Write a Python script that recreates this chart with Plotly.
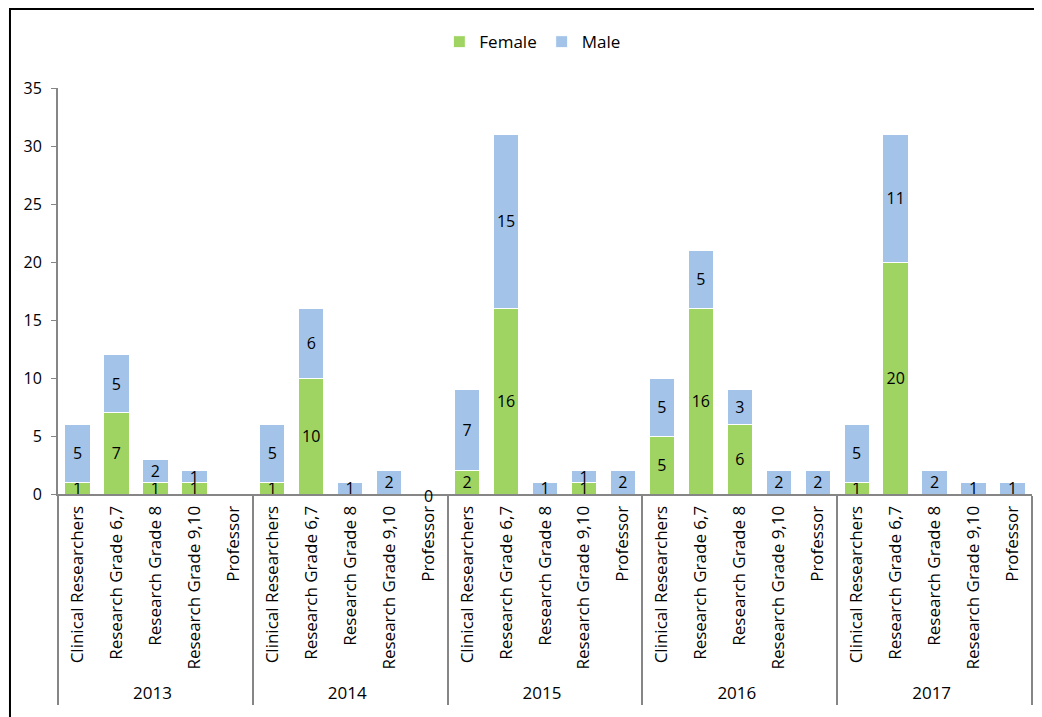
import plotly.graph_objects as go

years = ["2013", "2014", "2015", "2016", "2017"]
roles = [
    "Clinical Researchers",
    "Research Grade 6,7",
    "Research Grade 8",
    "Research Grade 9,10",
    "Professor",
]

# counts per year, in the order of roles
female = [
    1, 7, 1, 1, 0,
    1, 10, 0, 0, 0,
    2, 16, 0, 1, 0,
    5, 16, 6, 0, 0,
    1, 20, 0, 0, 0,
]
male = [
    5, 5, 2, 1, 0,
    5, 6, 1, 2, 0,
    7, 15, 1, 1, 2,
    5, 5, 3, 2, 2,
    5, 11, 2, 1, 1,
]
# the one zero that Excel still labelled (female count)
zero_labelled = [("2014", "Professor")]

x_year = [y for y in years for _ in roles]
x_role = [r for _ in years for r in roles]

female_text = [str(v) if v else "" for v in female]
male_text = [str(v) if v else "" for v in male]

FONT = "'Open Sans', sans-serif"

# page body has an 8px margin, so the figure is drawn 8px smaller
W, H = 1034, 709

fig = go.Figure()
for name, vals, txt, col in [
    ("Female", female, female_text, "#9FD462"),
    ("Male", male, male_text, "#A3C4E8"),
]:
    fig.add_trace(
        go.Bar(
            x=[x_year, x_role],
            y=vals,
            name=name,
            marker=dict(color=col, line=dict(color="white", width=1)),
            text=txt,
            textposition="inside",
            insidetextanchor="middle",
            textangle=0,
            textfont=dict(size=16, color="black"),
            constraintext="none",
        )
    )

annotations = []
for yr, rl in zero_labelled:
    i = years.index(yr) * len(roles) + roles.index(rl)
    annotations.append(
        dict(
            x=i,
            y=female[i],
            xref="x",
            yref="y",
            text=str(female[i]),
            showarrow=False,
            yshift=-2,
            font=dict(size=16, color="black"),
        )
    )

fig.update_layout(
    barmode="stack",
    bargap=0.35,
    width=W,
    height=H,
    margin=dict(l=50, r=10, t=80, b=223),
    paper_bgcolor="white",
    plot_bgcolor="white",
    font=dict(family=FONT, size=16, color="black"),
    uniformtext=dict(minsize=16, mode="show"),
    annotations=annotations,
    legend=dict(
        orientation="h",
        traceorder="normal",
        x=0.487,
        xanchor="center",
        y=1.113,
        yanchor="middle",
        font=dict(size=17),
        itemwidth=30,
    ),
    xaxis=dict(
        type="multicategory",
        tickangle=-90,
        showline=True,
        linecolor="#868686",
        linewidth=2,
        showdividers=True,
        dividercolor="#868686",
        dividerwidth=2,
        tickfont=dict(size=17),
        ticklabelstandoff=3,
    ),
    yaxis=dict(
        range=[0, 35],
        dtick=5,
        showgrid=False,
        zeroline=False,
        showline=True,
        linecolor="#868686",
        linewidth=2,
        ticks="outside",
        ticklen=5,
        tickcolor="#868686",
        tickfont=dict(size=16),
        ticklabelstandoff=6,
    ),
    shapes=[
        # chart-area frame: only its top and left edges are in view
        dict(
            type="rect",
            xref="paper",
            yref="paper",
            x0=-0.0493,
            x1=1.3,
            y0=-1.0,
            y1=1.1946,
            line=dict(color="black", width=2),
            fillcolor="rgba(0,0,0,0)",
            layer="below",
        )
    ],
)

fig.write_html("out.html")
